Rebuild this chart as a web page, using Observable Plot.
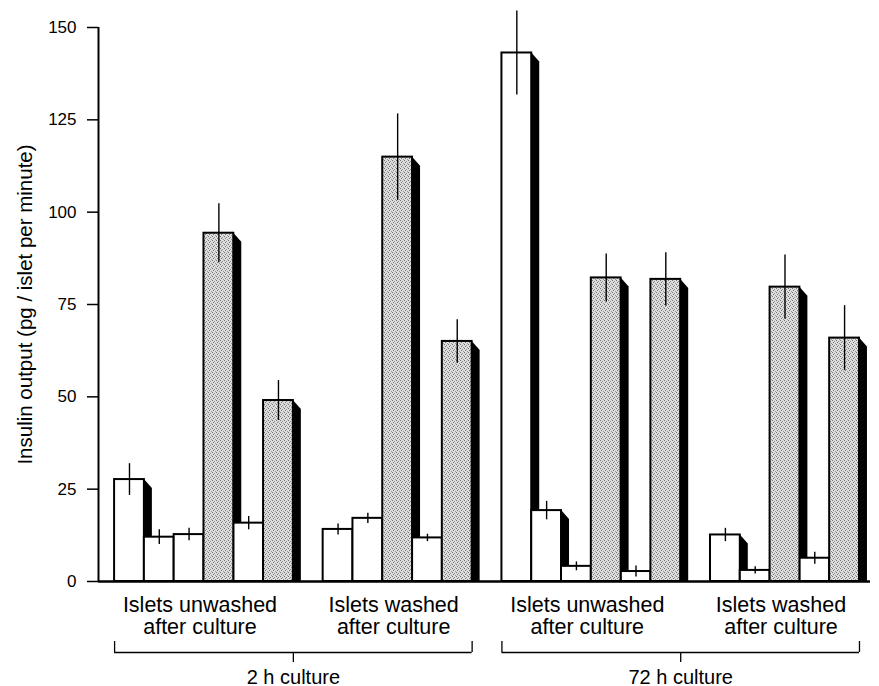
<!DOCTYPE html>
<html>
<head>
<meta charset="utf-8">
<script src="https://cdn.jsdelivr.net/npm/d3@7"></script>
<script src="https://cdn.jsdelivr.net/npm/@observablehq/plot@0.6"></script>
<style>
  body { margin: 0; background: #fff; }
  #chart svg { display: block; }
</style>
</head>
<body>
<div id="chart"></div>
<script>
// Insulin output per collection period, four islet preparations.
// Periods 1–6 in each preparation; periods 4 and 6 are the stimulated ones (shaded).
const groupLabels = [
  "Islets unwashed\nafter culture",
  "Islets washed\nafter culture",
  "Islets unwashed\nafter culture",
  "Islets washed\nafter culture"
];
const groupCulture = [0, 0, 1, 1];
const cultureLabels = ["2 h culture", "72 h culture"];
const stimulatedPeriod = [false, false, false, true, false, true];

// mean and SEM, pg/islet per minute (null = not measured)
const mean2hUnwashed  = [27.6, 12.0, 12.7, 94.3, 15.8, 49.0];
const sem2hUnwashed   = [4.3, 2.0, 1.7, 8.0, 1.8, 5.4];
const mean2hWashed    = [null, 14.1, 17.1, 114.9, 11.8, 65.0];
const sem2hWashed     = [null, 1.5, 1.4, 11.7, 1.0, 5.9];
const mean72hUnwashed = [143.1, 19.2, 4.1, 82.2, 2.7, 81.8];
const sem72hUnwashed  = [11.4, 2.5, 1.2, 6.5, 1.5, 7.2];
const mean72hWashed   = [null, 12.6, 3.0, 79.7, 6.3, 65.9];
const sem72hWashed    = [null, 1.8, 1.0, 8.7, 1.6, 8.8];

const yTicks = [0, 25, 50, 75, 100, 125, 150];
const yLabel = "Insulin output (pg / islet per minute)";

// ---- build tables -------------------------------------------------------
const means = [mean2hUnwashed, mean2hWashed, mean72hUnwashed, mean72hWashed];
const sems = [sem2hUnwashed, sem2hWashed, sem72hUnwashed, sem72hWashed];
const perGroup = stimulatedPeriod.length;
// one empty slot separates the 2 h and 72 h sets
const slotOf = (g, p) => g * perGroup + p + groupCulture[g];

const bars = [];
means.forEach((vals, g) => vals.forEach((v, p) => {
  if (v == null) return;
  bars.push({group: g, period: p, slot: slotOf(g, p), value: v, err: sems[g][p], stim: stimulatedPeriod[p]});
}));

const groups = groupLabels.map((label, g) => {
  const s = bars.filter(d => d.group === g).map(d => d.slot);
  return {label, center: (d3.min(s) + d3.max(s) + 1) / 2};
});

const cultures = cultureLabels.map((label, c) => {
  const gs = groupCulture.map((k, g) => k === c ? g : -1).filter(g => g >= 0);
  const x1 = slotOf(d3.min(gs), 0), x2 = slotOf(d3.max(gs), perGroup - 1) + 1;
  return {label, x1, x2, mid: (x1 + x2) / 2};
});
const bracketEnds = cultures.flatMap(c => [c.x1, c.x2]);

const xDomain = [-0.54, slotOf(groupLabels.length - 1, perGroup - 1) + 1.37];
const shadowDepth = 8;
const svgns = "http://www.w3.org/2000/svg";

// halftone fill for the stimulated periods
function stippleDefs() {
  const g = document.createElementNS(svgns, "g");
  g.innerHTML = `<defs><pattern id="stipple" patternUnits="userSpaceOnUse" width="4" height="4">
    <rect width="4" height="4" fill="#dedede"/>
    <rect x="0" y="0" width="1" height="1" fill="#6f6f6f"/>
    <rect x="2" y="1" width="1" height="1" fill="#8a8a8a"/>
    <rect x="1" y="2" width="1" height="1" fill="#777"/>
    <rect x="3" y="3" width="1" height="1" fill="#959595"/>
  </pattern></defs>`;
  return g;
}

// black drop shadow on the right side of every bar, bevelled at the top
function barShadows(index, scales) {
  const {x, y} = scales;
  const g = document.createElementNS(svgns, "g");
  const yb = y(0);
  for (const d of bars) {
    const xr = x(d.slot + 1), yt = y(d.value);
    const p = document.createElementNS(svgns, "path");
    p.setAttribute("d", `M${xr},${yt}L${xr + shadowDepth},${yt + shadowDepth + 1}V${yb}H${xr}Z`);
    p.setAttribute("fill", "black");
    g.appendChild(p);
  }
  return g;
}

const chart = Plot.plot({
  width: 879,
  height: 686,
  marginLeft: 98,
  marginRight: 9,
  marginTop: 27,
  marginBottom: 105,
  style: {fontFamily: "'Liberation Sans', Arial, Helvetica, sans-serif", fontSize: "17px", color: "black", background: "white"},
  x: {type: "linear", domain: xDomain, axis: null},
  y: {domain: [0, 150], axis: null},
  marks: [
    stippleDefs,
    barShadows,
    Plot.rectY(bars.filter(d => !d.stim), {x1: d => d.slot, x2: d => d.slot + 1, y: "value", fill: "white", stroke: "black", strokeWidth: 2}),
    Plot.rectY(bars.filter(d => d.stim), {x1: d => d.slot, x2: d => d.slot + 1, y: "value", fill: "url(#stipple)", stroke: "black", strokeWidth: 2}),
    Plot.ruleX(bars, {x: d => d.slot + 0.5, y1: d => d.value - d.err, y2: d => d.value + d.err, stroke: "black", strokeWidth: 1.4}),
    Plot.ruleY([0], {stroke: "black", strokeWidth: 2.5}),
    Plot.ruleX([xDomain[0]], {y1: 0, y2: d3.max(yTicks), stroke: "black", strokeWidth: 2}),
    Plot.axisY(yTicks, {tickSize: 11, tickPadding: 11, fontSize: 17, label: null, strokeWidth: 1.5}),
    Plot.text([yLabel], {frameAnchor: "left", textAnchor: "middle", rotate: -90, dx: -73, fontSize: 20.5}),
    Plot.text(groups, {x: "center", text: "label", frameAnchor: "bottom", lineAnchor: "top", dx: -4, dy: 14, fontSize: 21.5, lineHeight: 1.05}),
    Plot.ruleY(cultures, {x1: "x1", x2: "x2", y: () => 0, dy: 71, stroke: "black", strokeWidth: 1.3}),
    Plot.ruleX(bracketEnds, {x: d => d, y1: () => 0, y2: () => 0, insetTop: -11, dy: 71, stroke: "black", strokeWidth: 1.3}),
    Plot.ruleX(cultures, {x: "mid", y1: () => 0, y2: () => 0, insetBottom: -10, dy: 71, stroke: "black", strokeWidth: 1.3}),
    Plot.text(cultures, {x: "mid", text: "label", frameAnchor: "bottom", dy: 102, fontSize: 20})
  ]
});
document.getElementById("chart").appendChild(chart);
</script>
</body>
</html>
